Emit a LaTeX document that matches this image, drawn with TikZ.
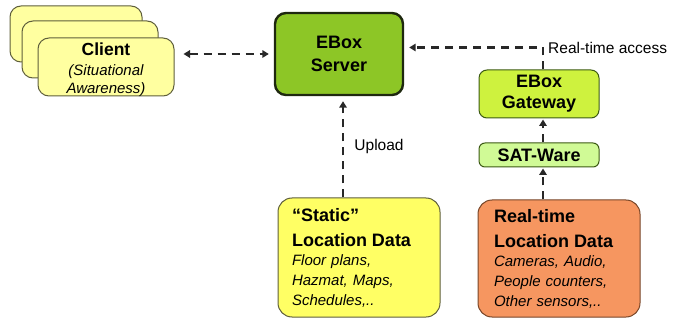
\documentclass[tikz,border=0pt]{standalone}
\usepackage{fontspec}
\setmainfont{Liberation Sans}
\usetikzlibrary{arrows.meta}

\definecolor{clientfill}{RGB}{255,255,160}
\definecolor{serverfill}{RGB}{141,198,38}
\definecolor{gatewayfill}{RGB}{206,242,62}
\definecolor{satfill}{RGB}{208,250,150}
\definecolor{staticfill}{RGB}{255,255,100}
\definecolor{livefill}{RGB}{246,150,96}
\definecolor{flowgray}{RGB}{40,40,40}

\tikzset{
  box/.style={rounded corners=11pt, draw={rgb,255:red,95;green,95;blue,60}, line width=1pt, inner sep=0pt},
  card/.style={box, fill=clientfill, minimum width=136pt, minimum height=57pt},
  flow/.style={draw=flowgray, line width=2.3pt, dash pattern=on 8pt off 6pt,
    -{Triangle[length=6.5pt,width=7.5pt]}},
  boldline/.style={font=\fontsize{18}{22}\selectfont\bfseries},
}

\begin{document}
\begin{tikzpicture}[x=1pt,y=-1pt]
\useasboundingbox (0,0) rectangle (676,320);
%Shape: client stack
\node [card, minimum width=132pt, minimum height=56pt] (clientback) at (76,34) {};
\node [card] (clientmid) at (90,49.5) {};
\node [card, minimum height=58pt] (client) at (106,67) {};
% Text Node
\node [align=center, inner sep=0pt, font=\fontsize{15}{19}\selectfont] (clienttext) at (106,70)
  {{\fontsize{17.5}{19}\selectfont\bfseries Client}\\[1pt] \itshape (Situational\\[-1pt] \itshape Awareness)};
%Shape: server
\node [box, fill=serverfill, draw={rgb,255:red,30;green,40;blue,15}, line width=2.4pt,
  minimum width=128pt, minimum height=82pt, align=center, boldline] (server) at (339,54) {EBox\\[1pt] Server};
%Shape: gateway
\node [box, rounded corners=8pt, fill=gatewayfill, draw={rgb,255:red,60;green,90;blue,20},
  minimum width=120pt, minimum height=48pt, align=center, font=\fontsize{18}{21}\selectfont\bfseries] (gateway) at (539,94) {EBox\\ Gateway};
\node [box, rounded corners=6pt, fill=satfill, draw={rgb,255:red,60;green,90;blue,20},
  minimum width=120pt, minimum height=24pt, boldline] (satware) at (539,155) {SAT-Ware};
%Shape: data sources
\node [box, rounded corners=14pt, fill=staticfill, minimum width=162pt, minimum height=119pt,
  text width=134pt, align=left, font=\fontsize{15}{20}\selectfont] (static) at (359,257.5)
  {{\bfseries\fontsize{18}{22}\selectfont “Static”}\\[5pt]
   {\bfseries\fontsize{18}{22}\selectfont Location Data}\\[-1pt]
   \itshape Floor plans,\\ \itshape Hazmat, Maps,\\ \itshape Schedules,..};
\node [box, rounded corners=14pt, fill=livefill, draw={rgb,255:red,120;green,70;blue,40},
  minimum width=162pt, minimum height=117pt,
  text width=130pt, align=left, font=\fontsize{15}{20}\selectfont] (live) at (559,258.5)
  {{\bfseries\fontsize{18}{22}\selectfont Real-time}\\[5pt]
   {\bfseries\fontsize{18}{22}\selectfont Location Data}\\[-1pt]
   \itshape Cameras, Audio,\\ \itshape People counters,\\ \itshape Other sensors,..};
%Straight Lines: flows
\draw [flow, {Triangle[length=6.5pt,width=7.5pt]}-{Triangle[length=6.5pt,width=7.5pt]}, shorten <=9pt, shorten >=5pt]
  (server.west -| client.east) -- (server.west);
\draw [flow, shorten >=5pt] ([xshift=-16pt]static.north) -- ([xshift=4pt]server.south)
  node [midway, right=7pt, font=\fontsize{15.5}{17}\selectfont] (upload) {Upload};
\draw [flow, shorten >=1pt] ([xshift=4pt]satware.north) -- ([xshift=4pt]gateway.south);
\draw [flow, shorten >=1pt] ([xshift=4pt]live.north -| satware) -- ([xshift=4pt]satware.south);
\path ([xshift=4pt]gateway.north) ++(0,-22) coordinate (bend);
\draw [flow, shorten >=5pt] ([xshift=4pt]gateway.north) -- (bend) -- (bend -| server.east);
% Text Node
\node [right=5pt, inner sep=0pt, font=\fontsize{15.5}{17}\selectfont] (access) at (bend) {Real-time access};
\end{tikzpicture}
\end{document}
